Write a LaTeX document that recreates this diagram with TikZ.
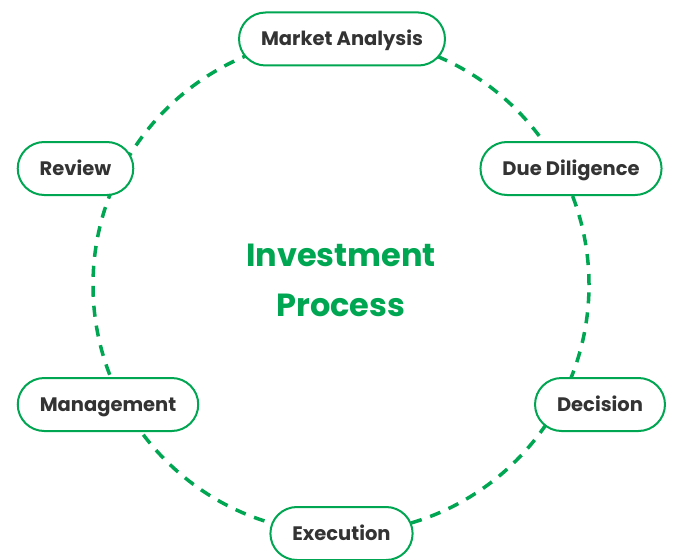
\documentclass[tikz,border=0pt]{standalone}
\usepackage{fontspec}
\setmainfont{Poppins}
\definecolor{procgreen}{HTML}{00A651}
\definecolor{procgray}{HTML}{333333}
\tikzset{
    stage/.style={draw=procgreen,line width=2pt,fill=white,rounded corners=26.5pt,
        minimum height=53pt,inner xsep=22pt,text=procgray,
        text height=13.6pt,text depth=0pt,
        font=\fontsize{19.5}{22}\selectfont\bfseries},
    ringline/.style={draw=procgreen,line width=3.5pt,dash pattern=on 11pt off 9pt}
}
\begin{document}
\begin{tikzpicture}[x=1pt,y=-1pt]
    \useasboundingbox (0,0) rectangle (676,559);
    \coordinate (hub) at (341,285);
    \draw[ringline] (hub) circle (248pt);
    \node[text=procgreen,align=center,font=\fontsize{32}{50}\selectfont\bfseries] (title) at (341,280) {Investment\\Process};
    \node[stage] (market) at (342,39) {Market Analysis};
    \node[stage] (due) at (571,168.5) {Due Diligence};
    \node[stage] (decision) at (600,404.5) {Decision};
    \node[stage] (execution) at (341.5,533.5) {Execution};
    \node[stage] (management) at (108,404.5) {Management};
    \node[stage] (review) at (75.5,168.5) {Review};
\end{tikzpicture}
\end{document}
